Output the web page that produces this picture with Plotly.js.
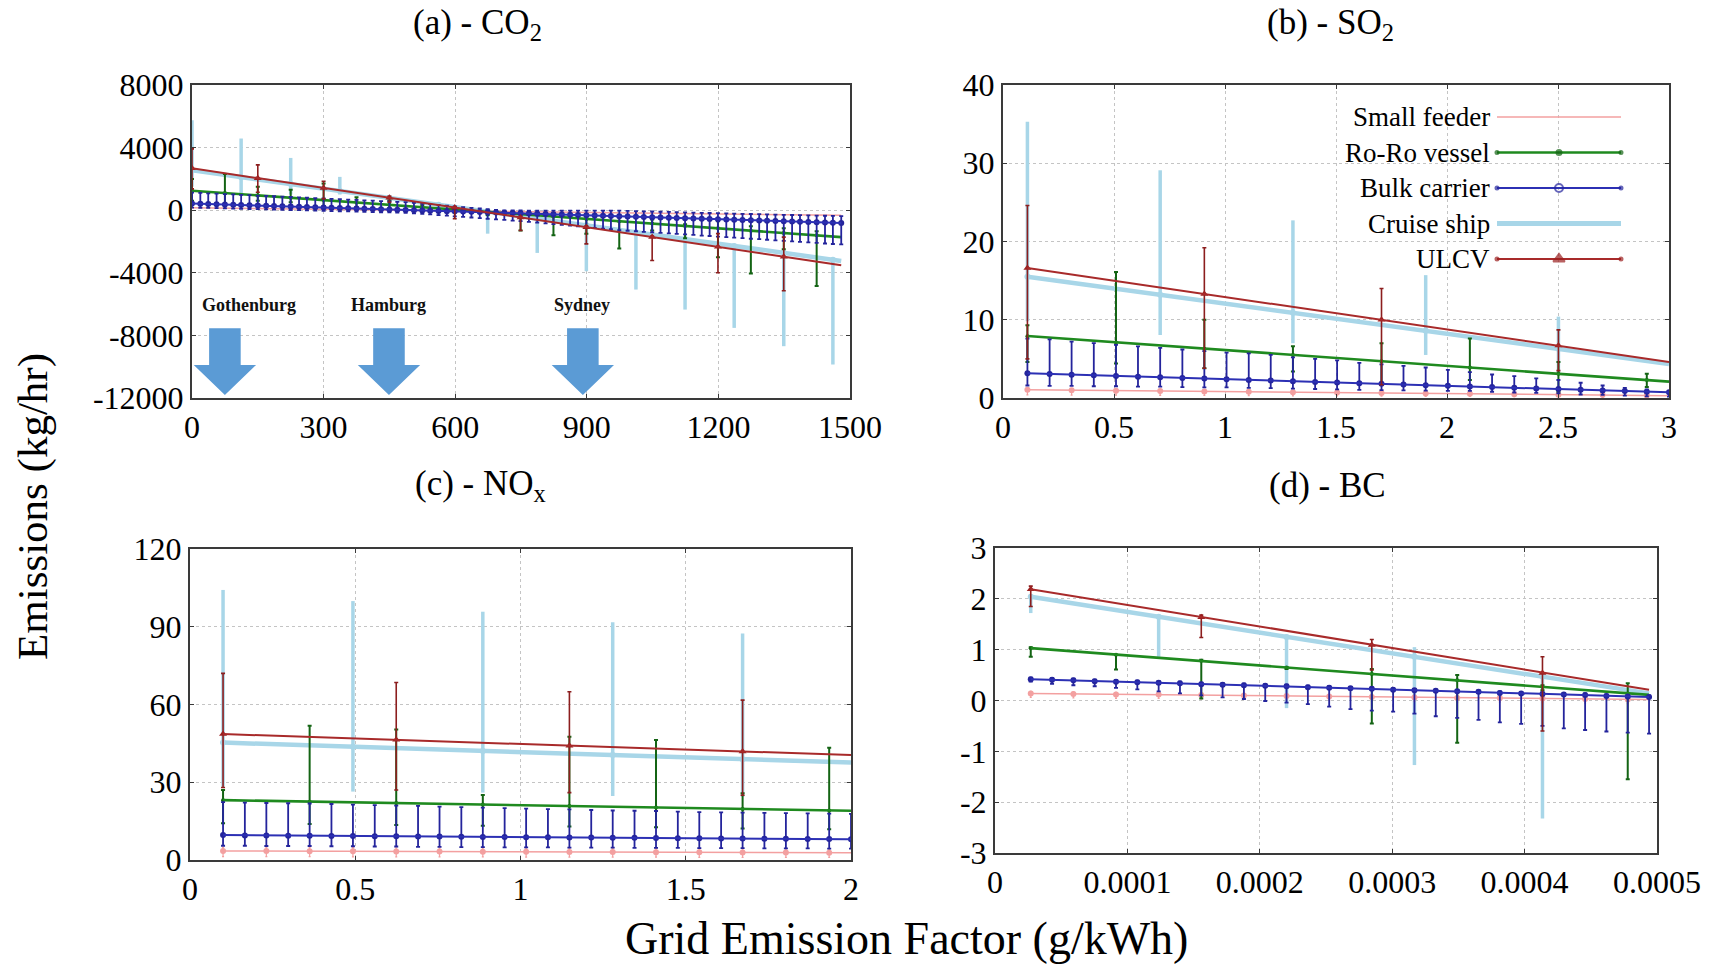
<!DOCTYPE html>
<html><head><meta charset="utf-8">
<script src="https://cdn.plot.ly/plotly-3.0.1.min.js"></script>
<style>html,body{margin:0;padding:0;background:#fff}#chart{width:1729px;height:964px}</style>
</head><body><div id="chart"></div>
<script>
// ---------------- DATA ----------------
const seriesNames = ['Small feeder', 'Ro-Ro vessel', 'Bulk carrier', 'Cruise ship', 'ULCV'];
const panelTitles = ['(a) - CO<sub>2</sub>', '(b) - SO<sub>2</sub>', '(c) - NO<sub>x</sub>', '(d) - BC'];
const cities = ['Gothenburg', 'Hamburg', 'Sydney'];
const cityArrowX = [75, 449, 891];
const cityLabelX = [130, 447, 889];
const cityLabelY = [-6050, -6050, -6050];

// ----- (a) CO2 -----
const aLineX = [0, 1480];
const aSmallLine = [150, -330];
const aRoroLine = [1246, -1720];
const aBulkLine = [425, -810];
const aCruiseLine = [2550, -3240];
const aUlcvLine = [2675, -3520];
const aBulkX = [0,19,37,56,75,94,112,131,150,169,187,206,225,244,262,281,300,318,337,356,375,393,412,431,450,468,487,506,525,543,562,581,599,618,637,656,674,693,712,731,749,768,787,806,824,843,862,880,899,918,937,955,974,993,1012,1030,1049,1068,1087,1105,1124,1143,1162,1180,1199,1218,1236,1255,1274,1293,1311,1330,1349,1368,1386,1405,1424,1443,1461,1480];
const aBulkY = [425,409,394,378,362,347,331,316,300,284,269,253,237,222,206,191,175,159,144,128,112,97,81,66,50,34,19,3,-13,-28,-44,-60,-75,-91,-107,-122,-138,-153,-169,-185,-200,-216,-232,-247,-263,-278,-294,-310,-325,-341,-357,-372,-388,-403,-419,-435,-450,-466,-482,-497,-513,-528,-544,-560,-575,-591,-607,-622,-638,-653,-669,-685,-700,-716,-732,-747,-763,-778,-794,-810];
const aBulkHi = [1125,1101,1078,1054,1030,1007,984,961,937,913,890,866,842,819,796,773,749,725,702,678,654,631,607,584,560,536,513,473,427,382,336,290,245,199,153,108,62,17,-9,-15,-20,-21,-22,-22,-23,-23,-24,-25,-25,-26,-27,-27,-33,-43,-57,-71,-84,-98,-112,-125,-139,-152,-166,-180,-192,-205,-218,-230,-243,-255,-268,-281,-293,-306,-319,-331,-344,-356,-368,-380];
const aBulkLo = [170,157,144,131,117,105,91,78,65,51,39,25,12,0,-14,-27,-40,-54,-66,-80,-93,-106,-119,-132,-145,-159,-171,-197,-233,-273,-314,-350,-390,-431,-467,-507,-548,-583,-624,-660,-700,-746,-792,-842,-888,-933,-984,-1030,-1075,-1126,-1172,-1217,-1268,-1313,-1344,-1380,-1415,-1446,-1482,-1517,-1548,-1583,-1619,-1650,-1685,-1721,-1752,-1787,-1823,-1853,-1889,-1925,-1955,-1991,-2027,-2057,-2093,-2128,-2159,-2190];
const aRoroX = [0,75,150,225,300,375,450,525,599,674,749,824,899,974,1049,1124,1199,1274,1349,1424];
const aRoroY = [1246,1096,945,795,645,494,344,194,46,-105,-255,-405,-556,-706,-856,-1006,-1157,-1307,-1457,-1607];
const aRoroHi = [2000,2320,1500,1300,1700,830,620,320,150,0,-150,-400,-400,-700,-600,-900,-700,-1020,-1150,-1340];
const aRoroLo = [600,256,600,500,250,190,-20,100,-150,-300,-1300,-1600,-1500,-2450,-1300,-1800,-3000,-4050,-2500,-4850];
const aCruiseX = [0,112,225,337,450,562,674,787,899,1012,1124,1236,1349,1461];
const aCruiseY = [2550,2112,1670,1232,790,351,-87,-529,-967,-1409,-1847,-2285,-2727,-3166];
const aCruiseHi = [5750,4580,3340,2130,900,351,-87,-529,-967,-1409,-1847,-2285,-2727,-3166];
const aCruiseLo = [1500,1040,1000,1000,600,-350,-1500,-2730,-3900,-5070,-6350,-7520,-8690,-9860];
const aUlcvX = [0,150,300,450,599,749,899,1049,1199,1349];
const aUlcvY = [2675,2048,1420,793,170,-460,-1090,-1715,-2340,-2970];
const aUlcvHi = [3917,2897,1853,895,200,-400,-1000,-1650,-1500,-1720];
const aUlcvLo = [1360,1150,725,511,-550,-1300,-2150,-3217,-4000,-5150];

// ----- (b) SO2 -----
const bLineX = [0.11, 3.0];
const bSmallLine = [1.05, 0.3];
const bRoroLine = [7.92, 2.09];
const bBulkLine = [3.15, 0.72];
const bCruiseLine = [15.5, 4.35];
const bUlcvLine = [16.6, 4.6];
const bBulkX = [0.110,0.210,0.309,0.409,0.509,0.608,0.708,0.808,0.907,1.007,1.107,1.206,1.306,1.406,1.505,1.605,1.705,1.804,1.904,2.004,2.103,2.203,2.303,2.402,2.502,2.602,2.701,2.801,2.900,3.000];
const bBulkY = [3.15,3.07,2.98,2.90,2.81,2.73,2.65,2.56,2.48,2.40,2.31,2.23,2.14,2.06,1.98,1.89,1.81,1.72,1.64,1.56,1.47,1.39,1.31,1.22,1.14,1.05,0.97,0.89,0.80,0.72];
const bBulkHi = [7.6,7.5,7.2,7.0,6.8,6.6,6.4,6.2,6.0,5.8,5.7,5.5,5.2,5.0,4.8,4.5,4.3,4.1,3.9,3.6,3.3,3.0,2.8,2.5,2.3,1.95,1.6,1.3,1.1,0.9];
const bBulkLo = [1.6,1.55,1.55,1.5,1.5,1.45,1.45,1.4,1.37,1.35,1.3,1.25,1.2,1.15,1.1,1.05,1.0,0.98,0.95,0.92,0.9,0.8,0.7,0.65,0.6,0.45,0.4,0.3,0.2,0.17];
const bSmallX = [0.110,0.309,0.509,0.708,0.907,1.107,1.306,1.505,1.705,1.904,2.103,2.303,2.502,2.701,2.900];
const bSmallY = [1.05,1.0,0.94,0.89,0.84,0.79,0.74,0.69,0.64,0.58,0.53,0.48,0.43,0.38,0.33];
const bSmallHi = [1.25,1.2,1.15,1.1,1.05,1.0,0.95,0.9,0.85,0.8,0.75,0.7,0.65,0.6,0.55];
const bSmallLo = [0.4,0.38,0.36,0.34,0.32,0.3,0.28,0.26,0.24,0.22,0.2,0.18,0.16,0.14,0.12];
const bRoroX = [0.110,0.509,0.907,1.306,1.705,2.103,2.502,2.900];
const bRoroY = [7.9,7.1,6.3,5.5,4.7,3.9,3.1,2.3];
const bRoroHi = [9.3,16.1,10.0,6.6,7.0,7.6,4.6,3.1];
const bRoroLo = [4.6,4.4,3.8,3.4,1.7,2.3,0.8,1.4];
const bCruiseX = [0.110,0.708,1.306,1.904,2.502];
const bCruiseY = [15.5,13.2,10.9,8.6,6.3];
const bCruiseHi = [35.3,29.1,22.7,15.7,10.4];
const bCruiseLo = [9.8,8.05,7.0,5.5,3.0];
const bUlcvX = [0.110,0.907,1.705,2.502];
const bUlcvY = [16.6,13.3,10.0,6.7];
const bUlcvHi = [24.6,19.2,14.0,8.7];
const bUlcvLo = [5.0,3.8,1.7,3.5];

// ----- (c) NOx -----
const cLineX = [0.1, 2.0];
const cSmallLine = [3.5, 2.8];
const cRoroLine = [23.1, 19.0];
const cBulkLine = [9.6, 8.0];
const cCruiseLine = [45.3, 37.6];
const cUlcvLine = [48.6, 40.5];
const cBulkX = [0.100,0.166,0.231,0.297,0.362,0.428,0.493,0.559,0.624,0.690,0.755,0.821,0.886,0.952,1.017,1.083,1.148,1.214,1.279,1.345,1.410,1.476,1.541,1.607,1.672,1.738,1.803,1.869,1.934,2.000];
const cBulkY = [9.6,9.5,9.5,9.4,9.4,9.3,9.3,9.2,9.2,9.1,9.1,9.0,8.9,8.9,8.8,8.8,8.7,8.7,8.6,8.6,8.5,8.4,8.4,8.3,8.3,8.2,8.2,8.1,8.1,8.0];
const cBulkHi = [22.3,22.1,22.0,21.9,21.8,21.6,21.4,21.2,21.0,20.9,20.6,20.4,20.2,20.0,19.8,19.6,19.5,19.3,19.1,19.0,18.9,18.7,18.5,18.4,18.3,18.2,18.1,18.0,17.9,17.8];
const cBulkLo = [5.5,5.5,5.4,5.4,5.4,5.3,5.3,5.2,5.2,5.1,5.1,5.0,5.0,4.9,4.9,4.9,4.8,4.8,4.8,4.7,4.7,4.7,4.6,4.6,4.6,4.5,4.5,4.5,4.4,4.4];
const cSmallX = [0.100,0.231,0.362,0.493,0.624,0.755,0.886,1.017,1.148,1.279,1.410,1.541,1.672,1.803,1.934];
const cSmallY = [3.5,3.45,3.4,3.35,3.3,3.25,3.2,3.15,3.1,3.05,3.0,2.95,2.9,2.85,2.8];
const cSmallHi = [4.9,4.85,4.8,4.75,4.7,4.65,4.6,4.55,4.5,4.45,4.4,4.35,4.3,4.25,4.2];
const cSmallLo = [1.3,1.3,1.3,1.2,1.2,1.2,1.2,1.1,1.1,1.1,1.1,1.0,1.0,1.0,1.0];
const cRoroX = [0.100,0.362,0.624,0.886,1.148,1.410,1.672,1.934];
const cRoroY = [23.1,22.5,22.0,21.4,20.8,20.3,19.7,19.1];
const cRoroHi = [27.0,51.8,50.4,25.1,47.6,46.3,25.8,43.3];
const cRoroLo = [14.2,13.9,13.5,13.2,12.9,12.6,12.2,11.9];
const cCruiseX = [0.100,0.493,0.886,1.279,1.672];
const cCruiseY = [45.3,43.7,42.1,40.5,38.9];
const cCruiseHi = [104.2,99.9,95.8,91.7,87.4];
const cCruiseLo = [28.3,26.4,26.0,24.7,24.4];
const cUlcvX = [0.100,0.624,1.148,1.672];
const cUlcvY = [48.6,46.4,44.1,41.9];
const cUlcvHi = [72.0,68.5,64.9,61.7];
const cUlcvLo = [28,27,26,25];

// ----- (d) BC -----
const dLineX = [2.7e-5, 4.94e-4];
const dSmallLine = [0.14, 0.02];
const dRoroLine = [1.03, 0.11];
const dBulkLine = [0.42, 0.07];
const dCruiseLine = [2.04, 0.14];
const dUlcvLine = [2.19, 0.21];
const dBulkX = [2.70e-5,4.31e-5,5.92e-5,7.53e-5,9.14e-5,1.075e-4,1.236e-4,1.397e-4,1.558e-4,1.719e-4,1.880e-4,2.041e-4,2.202e-4,2.363e-4,2.524e-4,2.685e-4,2.846e-4,3.007e-4,3.168e-4,3.329e-4,3.491e-4,3.652e-4,3.813e-4,3.974e-4,4.135e-4,4.296e-4,4.457e-4,4.618e-4,4.779e-4,4.940e-4];
const dBulkY = [0.42,0.41,0.40,0.38,0.37,0.36,0.35,0.34,0.32,0.31,0.30,0.29,0.28,0.26,0.25,0.24,0.23,0.21,0.20,0.19,0.18,0.17,0.15,0.14,0.13,0.12,0.11,0.09,0.08,0.07];
const dBulkHi = [0.45,0.44,0.43,0.41,0.40,0.39,0.38,0.37,0.35,0.34,0.33,0.32,0.31,0.29,0.28,0.27,0.26,0.24,0.23,0.22,0.21,0.20,0.18,0.17,0.16,0.15,0.14,0.12,0.11,0.10];
const dBulkLo = [0.37,0.33,0.30,0.28,0.25,0.22,0.18,0.14,0.10,0.06,0.03,-0.01,-0.04,-0.07,-0.12,-0.17,-0.20,-0.22,-0.26,-0.31,-0.34,-0.38,-0.43,-0.46,-0.50,-0.55,-0.58,-0.61,-0.63,-0.65];
const dSmallX = [2.70e-5,5.92e-5,9.14e-5,1.236e-4,1.558e-4,1.880e-4,2.202e-4,2.524e-4,2.846e-4,3.168e-4,3.491e-4,3.813e-4,4.135e-4,4.457e-4,4.779e-4];
const dSmallY = [0.14,0.13,0.12,0.12,0.11,0.10,0.09,0.08,0.07,0.06,0.05,0.05,0.04,0.03,0.02];
const dSmallHi = [0.18,0.17,0.16,0.16,0.15,0.14,0.13,0.12,0.11,0.10,0.09,0.09,0.08,0.07,0.06];
const dSmallLo = [0.06,0.05,0.04,0.04,0.03,0.02,0.01,0.0,-0.01,-0.02,-0.03,-0.03,-0.04,-0.05,-0.06];
const dRoroX = [2.70e-5,9.14e-5,1.558e-4,2.202e-4,2.846e-4,3.491e-4,4.135e-4,4.779e-4];
const dRoroY = [1.03,0.90,0.78,0.65,0.52,0.40,0.27,0.14];
const dRoroHi = [1.05,0.90,0.80,0.66,0.62,0.50,0.30,0.34];
const dRoroLo = [0.86,0.61,0.04,0.62,-0.45,-0.83,0.20,-1.55];
const dCruiseX = [2.70e-5,1.236e-4,2.202e-4,3.168e-4,4.135e-4];
const dCruiseY = [2.04,1.65,1.25,0.86,0.47];
const dCruiseHi = [2.08,1.65,1.26,1.05,0.50];
const dCruiseLo = [1.72,0.86,-0.15,-1.27,-2.32];
const dUlcvX = [2.70e-5,1.558e-4,2.846e-4,4.135e-4];
const dUlcvY = [2.19,1.64,1.09,0.54];
const dUlcvHi = [2.25,1.68,1.20,0.86];
const dUlcvLo = [1.85,1.24,0.60,-0.60];

// tick values / labels
const aXTicks = [0,300,600,900,1200,1500];
const aXText = ['0','300','600','900','1200','1500'];
const aYTicks = [-12000,-8000,-4000,0,4000,8000];
const aYText = ['-12000','-8000','-4000','0','4000','8000'];
const bXTicks = [0,0.5,1,1.5,2,2.5,3];
const bXText = ['0','0.5','1','1.5','2','2.5','3'];
const bYTicks = [0,10,20,30,40];
const bYText = ['0','10','20','30','40'];
const cXTicks = [0,0.5,1,1.5,2];
const cXText = ['0','0.5','1','1.5','2'];
const cYTicks = [0,30,60,90,120];
const cYText = ['0','30','60','90','120'];
const dXTicks = [0,0.0001,0.0002,0.0003,0.0004,0.0005];
const dXText = ['0','0.0001','0.0002','0.0003','0.0004','0.0005'];
const dYTicks = [-3,-2,-1,0,1,2,3];
const dYText = ['-3','-2','-1','0','1','2','3'];

// ---------------- STYLE ----------------
const W = 1729, H = 964;
const FONT = 'Liberation Serif, Times New Roman, serif';
const ST = {
  small:  {line:'#f3a0a0', lw:1.5, bar:'#f3a0a0', bt:1.2, cap:1, msize:0, msym:'circle', mcol:'#f3a0a0'},
  roro:   {line:'#1f8a1f', lw:2.6, bar:'#146414', bt:2, cap:2, msize:4, msym:'circle', mcol:'#146414'},
  bulk:   {line:'#2c30b4', lw:2, bar:'#24249c', bt:1.8, cap:2, msize:6, msym:'circle', mcol:'#24249c'},
  cruise: {line:'#a8d6e8', lw:4.5, bar:'#a8d6e8', bt:3.5, cap:0, msize:0, msym:'circle', mcol:'#a8d6e8'},
  ulcv:   {line:'#a82a2a', lw:2, bar:'#8c1e1e', bt:1.6, cap:2, msize:7, msym:'triangle-up', mcol:'#9c2020'}
};

const traces = [];
function addSeries(ax, lineX, lineY, ex, ey, ehi, elo, st) {
  const xa = ax === 1 ? 'x' : 'x' + ax;
  const ya = ax === 1 ? 'y' : 'y' + ax;
  if (ex) {
    traces.push({
      type:'scatter', mode:'markers', x:ex, y:ey, xaxis:xa, yaxis:ya,
      marker:{size:st.msize, symbol:st.msym, color:st.mcol},
      error_y:{type:'data', symmetric:false,
        array: ehi.map((h,i)=>Math.max(0, h-ey[i])),
        arrayminus: elo.map((l,i)=>Math.max(0, ey[i]-l)),
        color:st.bar, thickness:st.bt, width:st.cap},
      hoverinfo:'skip', showlegend:false
    });
  }
  traces.push({type:'scatter', mode:'lines', x:lineX, y:lineY, xaxis:xa, yaxis:ya,
    line:{color:st.line, width:st.lw}, hoverinfo:'skip', showlegend:false});
}

// (a)
addSeries(1, aLineX, aCruiseLine, aCruiseX, aCruiseY, aCruiseHi, aCruiseLo, ST.cruise);
addSeries(1, aLineX, aSmallLine, null, null, null, null, ST.small);
addSeries(1, aLineX, aRoroLine, aRoroX, aRoroY, aRoroHi, aRoroLo, ST.roro);
addSeries(1, aLineX, aBulkLine, aBulkX, aBulkY, aBulkHi, aBulkLo, ST.bulk);
addSeries(1, aLineX, aUlcvLine, aUlcvX, aUlcvY, aUlcvHi, aUlcvLo, ST.ulcv);
// (b)
addSeries(2, bLineX, bCruiseLine, bCruiseX, bCruiseY, bCruiseHi, bCruiseLo, ST.cruise);
addSeries(2, bLineX, bSmallLine, bSmallX, bSmallY, bSmallHi, bSmallLo, ST.small);
addSeries(2, bLineX, bRoroLine, bRoroX, bRoroY, bRoroHi, bRoroLo, ST.roro);
addSeries(2, bLineX, bBulkLine, bBulkX, bBulkY, bBulkHi, bBulkLo, ST.bulk);
addSeries(2, bLineX, bUlcvLine, bUlcvX, bUlcvY, bUlcvHi, bUlcvLo, ST.ulcv);
// (c)
addSeries(3, cLineX, cCruiseLine, cCruiseX, cCruiseY, cCruiseHi, cCruiseLo, ST.cruise);
addSeries(3, cLineX, cSmallLine, cSmallX, cSmallY, cSmallHi, cSmallLo, ST.small);
addSeries(3, cLineX, cRoroLine, cRoroX, cRoroY, cRoroHi, cRoroLo, ST.roro);
addSeries(3, cLineX, cBulkLine, cBulkX, cBulkY, cBulkHi, cBulkLo, ST.bulk);
addSeries(3, cLineX, cUlcvLine, cUlcvX, cUlcvY, cUlcvHi, cUlcvLo, ST.ulcv);
// (d)
addSeries(4, dLineX, dCruiseLine, dCruiseX, dCruiseY, dCruiseHi, dCruiseLo, ST.cruise);
addSeries(4, dLineX, dSmallLine, dSmallX, dSmallY, dSmallHi, dSmallLo, ST.small);
addSeries(4, dLineX, dRoroLine, dRoroX, dRoroY, dRoroHi, dRoroLo, ST.roro);
addSeries(4, dLineX, dBulkLine, dBulkX, dBulkY, dBulkHi, dBulkLo, ST.bulk);
addSeries(4, dLineX, dUlcvLine, dUlcvX, dUlcvY, dUlcvHi, dUlcvLo, ST.ulcv);

// ---- custom legend (text left, sample right) on a pixel overlay axis ----
const LEG = {textRight:1492, x0:1497, x1:1621, top:117, step:35.5};
const legStyles = [ST.small, ST.roro, ST.bulk, ST.cruise, ST.ulcv];
const legMid = [null, 'circle', 'circle-open', null, 'triangle-up'];
const legMidSize = [0, 5, 8, 0, 10];
const legendAnn = [];
seriesNames.forEach((nm, i) => {
  const yy = LEG.top + i*LEG.step, st = legStyles[i];
  const xm = (LEG.x0 + LEG.x1)/2;
  const hasM = legMid[i] !== null;
  traces.push({type:'scatter', mode: hasM ? 'lines+markers' : 'lines',
    x:[LEG.x0, xm, LEG.x1], y:[yy,yy,yy], xaxis:'x5', yaxis:'y5',
    line:{color:st.line, width: i===3 ? 5 : st.lw},
    marker:{size:[3, legMidSize[i], 3], symbol:['circle', legMid[i] || 'circle', 'circle'],
            color:st.mcol, line:{color:st.mcol, width:2}},
    hoverinfo:'skip', showlegend:false});
  legendAnn.push({xref:'paper', yref:'paper', x:LEG.textRight/W, y:1-yy/H, xanchor:'right', yanchor:'middle',
    text:nm, showarrow:false, font:{family:FONT, size:27, color:'#000'}});
});

// ---------------- LAYOUT ----------------
function axBase(extra) {
  return Object.assign({
    showline:true, linecolor:'#3a3a3a', linewidth:2, mirror:'ticks',
    showgrid:true, gridcolor:'#c4c4c4', griddash:'dot', gridwidth:1,
    zeroline:false, ticks:'inside', ticklen:4, tickcolor:'#3a3a3a', tickwidth:1,
    tickmode:'array', tickfont:{family:FONT, size:32, color:'#000'},
    fixedrange:true
  }, extra);
}
const yTopDom = [1-398/H, 1-85/H];
const yBotDomC = [1-860/H, 1-549/H];
const yBotDomD = [1-853/H, 1-548/H];

const annotations = [
  {x:478/W, y:1-24/H, text:panelTitles[0]},
  {x:1330/W, y:1-24/H, text:panelTitles[1]},
  {x:480/W, y:1-485/H, text:panelTitles[2]},
  {x:1327/W, y:1-485/H, text:panelTitles[3]}
].map(a => Object.assign({xref:'paper', yref:'paper', xanchor:'center', yanchor:'middle', showarrow:false,
  font:{family:FONT, size:35, color:'#000'}}, a));

annotations.push({xref:'paper', yref:'paper', x:33/W, y:1-507/H, textangle:-90, xanchor:'center', yanchor:'middle',
  text:'Emissions (kg/hr)', showarrow:false, font:{family:FONT, size:43, color:'#000'}});
annotations.push({xref:'paper', yref:'paper', x:906/W, y:1-938/H, xanchor:'center', yanchor:'middle',
  text:'Grid Emission Factor (g/kWh)', showarrow:false, font:{family:FONT, size:46, color:'#000'}});

cities.forEach((c, i) => {
  annotations.push({xref:'x', yref:'y', x:cityLabelX[i], y:cityLabelY[i], text:'<b>'+c+'</b>',
    showarrow:false, xanchor:'center', yanchor:'middle', font:{family:FONT, size:18, color:'#111'}});
});
legendAnn.forEach(a => annotations.push(a));

// block arrows (style sizes in data units of panel a)
const ARW = {shaftHalf:36, headHalf:71, shaftTop:-7540, headBase:-9890, tip:-11810};
const shapes = cityArrowX.map(x => ({
  type:'path', xref:'x', yref:'y', fillcolor:'#5b9bd5', line:{width:0},
  path:`M ${x-ARW.shaftHalf},${ARW.shaftTop} L ${x+ARW.shaftHalf},${ARW.shaftTop} L ${x+ARW.shaftHalf},${ARW.headBase} L ${x+ARW.headHalf},${ARW.headBase} L ${x},${ARW.tip} L ${x-ARW.headHalf},${ARW.headBase} L ${x-ARW.shaftHalf},${ARW.headBase} Z`
}));

const layout = {
  width:W, height:H, margin:{l:0, r:0, t:0, b:0},
  paper_bgcolor:'#ffffff', plot_bgcolor:'rgba(0,0,0,0)', showlegend:false,
  xaxis:  axBase({domain:[192/W, 850/W], anchor:'y', range:[0,1500], tickvals:aXTicks, ticktext:aXText}),
  yaxis:  axBase({domain:yTopDom, anchor:'x', range:[-12000,8000], tickvals:aYTicks, ticktext:aYText}),
  xaxis2: axBase({domain:[1003/W, 1669/W], anchor:'y2', range:[0,3], tickvals:bXTicks, ticktext:bXText}),
  yaxis2: axBase({domain:yTopDom, anchor:'x2', range:[0,40], tickvals:bYTicks, ticktext:bYText}),
  xaxis3: axBase({domain:[190/W, 851/W], anchor:'y3', range:[0,2], tickvals:cXTicks, ticktext:cXText}),
  yaxis3: axBase({domain:yBotDomC, anchor:'x3', range:[0,120], tickvals:cYTicks, ticktext:cYText}),
  xaxis4: axBase({domain:[995/W, 1657/W], anchor:'y4', range:[0,0.0005], tickvals:dXTicks, ticktext:dXText}),
  yaxis4: axBase({domain:yBotDomD, anchor:'x4', range:[-3,3], tickvals:dYTicks, ticktext:dYText}),
  xaxis5: {domain:[0,1], anchor:'y5', range:[0,W], visible:false, fixedrange:true},
  yaxis5: {domain:[0,1], anchor:'x5', range:[H,0], visible:false, fixedrange:true},
  annotations: annotations,
  shapes: shapes
};

Plotly.newPlot('chart', traces, layout, {staticPlot:true, displayModeBar:false});
</script></body></html>
